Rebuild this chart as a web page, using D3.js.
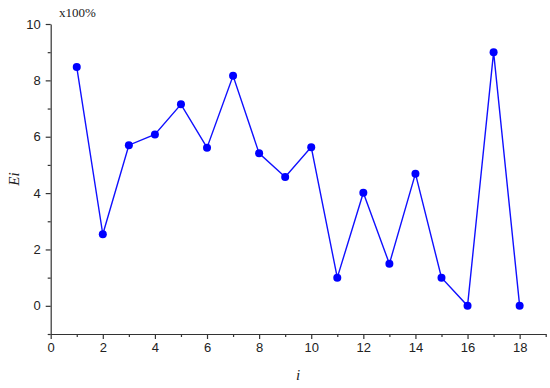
<!DOCTYPE html>
<html>
<head>
<meta charset="UTF-8">
<title>Ei chart</title>
<style type="text/css">
body { margin: 0; background: #fff; }
.axis path, .axis line { stroke: #333; stroke-width: 1.2px; }
.axis text { font-family: "Liberation Sans", Arial, sans-serif; font-size: 13px; fill: #222; }
.series { fill: none; stroke: #1010ff; stroke-width: 1.4px; }
.serif { font-family: "Liberation Serif", "Times New Roman", serif; fill: #222; }
</style>
<script src="https://d3js.org/d3.v7.min.js"></script>
</head>
<body>
<script type="text/javascript">
var idx = [1, 2, 3, 4, 5, 6, 7, 8, 9, 10, 11, 12, 13, 14, 15, 16, 17, 18];
var ei = [8.47, 2.54, 5.7, 6.08, 7.15, 5.61, 8.16, 5.41, 4.57, 5.63, 1.0, 4.01, 1.49, 4.69, 1.0, 0, 9.0, 0];
var xTicks = [0, 2, 4, 6, 8, 10, 12, 14, 16, 18];
var yTicks = [0, 2, 4, 6, 8, 10];

var margin = {top: 24, right: 4, bottom: 54, left: 50.7},
    width = 545.7 - margin.left,
    height = 334 - margin.top;

var x = d3.scaleLinear().domain([0, 19]).range([0, width]);
var y = d3.scaleLinear().domain([-1, 10]).range([height, 0]);

var svg = d3.select("body").append("svg")
    .attr("width", 550)
    .attr("height", 388)
  .append("g")
    .attr("transform", "translate(" + margin.left + "," + margin.top + ")");

// minor ticks
svg.append("g")
    .attr("class", "axis")
    .attr("transform", "translate(0," + height + ")")
    .call(d3.axisBottom(x).tickValues(d3.range(1, 20, 2)).tickSize(3).tickFormat(""))
    .select(".domain").remove();
svg.append("g")
    .attr("class", "axis")
    .call(d3.axisLeft(y).tickValues([-1, 1, 3, 5, 7, 9]).tickSize(3).tickFormat(""))
    .select(".domain").remove();

svg.append("g")
    .attr("class", "axis")
    .attr("transform", "translate(0," + height + ")")
    .call(d3.axisBottom(x).tickValues(xTicks).tickSize(5).tickSizeOuter(0).tickPadding(4));

svg.append("g")
    .attr("class", "axis")
    .call(d3.axisLeft(y).tickValues(yTicks).tickSize(5).tickSizeOuter(0).tickPadding(5));

var line = d3.line()
    .x(function(d, i) { return x(idx[i]); })
    .y(function(d) { return y(d); });

svg.append("path").attr("class", "series").attr("d", line(ei));

svg.selectAll(".dot").data(ei).enter().append("circle")
    .attr("class", "dot")
    .attr("cx", function(d, i) { return x(idx[i]); })
    .attr("cy", function(d) { return y(d); })
    .attr("r", 4)
    .style("fill", "#0000ff");

svg.append("text")
    .attr("class", "serif")
    .attr("x", 8.3)
    .attr("y", -7)
    .style("font-size", "13px")
    .text("x100%");

svg.append("text")
    .attr("class", "serif")
    .attr("x", width / 2)
    .attr("y", height + 46)
    .style("text-anchor", "middle")
    .style("font-style", "italic")
    .style("font-size", "15px")
    .text("i");

svg.append("text")
    .attr("class", "serif")
    .attr("transform", "translate(-32," + (height / 2) + ") rotate(-90)")
    .style("text-anchor", "middle")
    .style("font-style", "italic")
    .style("font-size", "15px")
    .text("Ei");
</script>
</body>
</html>
